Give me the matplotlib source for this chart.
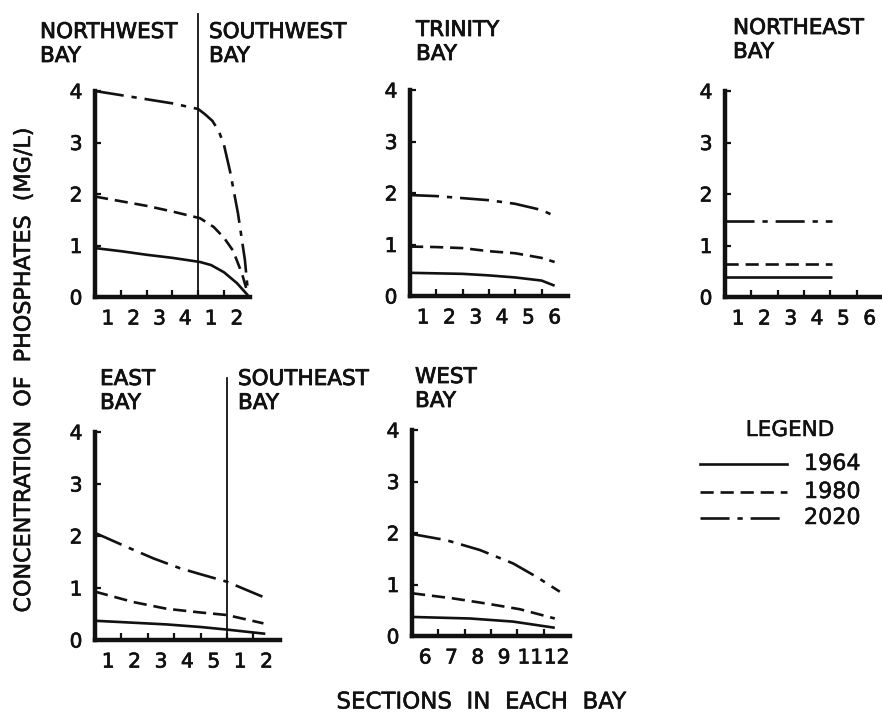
import matplotlib
matplotlib.use("Agg")
import matplotlib.pyplot as plt
import matplotlib.patheffects as pe

plt.rcParams['font.family'] = ['DejaVu Sans']

W, H = 882, 713
years = ["1964", "1980", "2020"]

# ---- Northwest / Southwest Bay (sections 1-4 | 1-2) ----
nw_labels = ["1", "2", "3", "4", "1", "2"]
nw_x_1964 = [0, 1, 2, 3, 4.07, 4.5, 5.0, 5.5, 5.93]
nw_y_1964 = [0.95, 0.89, 0.82, 0.76, 0.68, 0.62, 0.48, 0.27, 0.03]
nw_x_1980 = [0, 1, 2, 3, 4.07, 4.6, 5.0, 5.35, 5.7, 5.93]
nw_y_1980 = [1.95, 1.86, 1.77, 1.66, 1.53, 1.36, 1.15, 0.9, 0.45, 0.05]
nw_x_2020 = [0, 1, 2, 3, 4.0, 4.26, 4.55, 4.8, 5.0, 5.23, 5.54, 5.81, 5.93]
nw_y_2020 = [4.0, 3.92, 3.84, 3.76, 3.65, 3.55, 3.42, 3.22, 2.95, 2.45, 1.63, 0.72, 0.08]

# ---- Trinity Bay (sections 1-6) ----
tr_labels = ["1", "2", "3", "4", "5", "6"]
tr_x_1964 = [0, 1, 2, 3, 4, 5, 5.5]
tr_y_1964 = [0.45, 0.44, 0.43, 0.40, 0.36, 0.30, 0.20]
tr_x_1980 = [0, 1, 2, 3, 4, 5, 5.5]
tr_y_1980 = [0.96, 0.95, 0.93, 0.87, 0.83, 0.74, 0.66]
tr_x_2020 = [0, 1, 2, 3, 4, 5, 5.6]
tr_y_2020 = [1.96, 1.94, 1.90, 1.86, 1.79, 1.67, 1.53]

# ---- Northeast Bay (sections 1-6) ----
ne_labels = ["1", "2", "3", "4", "5", "6"]
ne_x = [0, 4.05]
ne_y_1964 = [0.39, 0.39]
ne_y_1980 = [0.64, 0.64]
ne_y_2020 = [1.48, 1.48]

# ---- East / Southeast Bay (sections 1-5 | 1-2) ----
ea_labels = ["1", "2", "3", "4", "5", "1", "2"]
ea_x_1964 = [0, 2.7, 4.0, 5.0, 6.45]
ea_y_1964 = [0.37, 0.30, 0.25, 0.20, 0.12]
ea_x_1980 = [0, 1.45, 2.72, 3.98, 5.0, 6.38]
ea_y_1980 = [0.93, 0.73, 0.60, 0.53, 0.48, 0.32]
ea_x_2020 = [0, 1.2, 2.21, 3.22, 4.1, 5.0, 6.5]
ea_y_2020 = [2.06, 1.79, 1.57, 1.38, 1.25, 1.12, 0.80]

# ---- West Bay (sections 6-12) ----
we_labels = ["6", "7", "8", "9", "11", "12"]
we_x_1964 = [0, 2.2, 3.84, 5.43]
we_y_1964 = [0.37, 0.34, 0.28, 0.16]
we_x_1980 = [0, 1.56, 2.83, 4.1, 5.43]
we_y_1980 = [0.83, 0.73, 0.63, 0.52, 0.34]
we_x_2020 = [0, 1.31, 2.58, 3.84, 4.73, 5.62]
we_y_2020 = [1.98, 1.86, 1.67, 1.41, 1.15, 0.86]

yticks = [0, 1, 2, 3, 4]

styles = {
    "1964": dict(linestyle="-"),
    "1980": dict(linestyle=(0, (5, 2.6))),
    "2020": dict(linestyle=(0, (11, 3, 2, 3))),
}
LW = 1.9
INK = "#111111"
stroke = [pe.withStroke(linewidth=0.6, foreground=INK)]

fig = plt.figure(figsize=(W / 100, H / 100), dpi=100)


def panel(x0, y0, y4, ppu, xmax, labels, series, divider=None, div_top=None):
    ax = fig.add_axes([x0 / W, 1 - y0 / H, xmax * ppu / W, (y0 - y4) / H])
    ax.set_xlim(0, xmax)
    ax.set_ylim(0, 4)
    for s in ["top", "right"]:
        ax.spines[s].set_visible(False)
    for s in ["left", "bottom"]:
        ax.spines[s].set_linewidth(3.2)
        ax.spines[s].set_color(INK)
        ax.spines[s].set_capstyle("projecting")
    ax.patch.set_visible(False)
    n = len(labels)
    ax.set_xticks(list(range(1, n)))
    ax.set_xticklabels([])
    ax.set_xticks([i + 0.5 for i in range(n)], minor=True)
    ax.set_xticklabels(labels, minor=True)
    ax.tick_params(axis="x", which="major", direction="in", length=5, width=1.6, color=INK)
    ax.tick_params(axis="x", which="minor", length=0, pad=9, labelsize=14.5, labelcolor=INK)
    ax.set_yticks(yticks)
    ax.set_yticklabels([str(v) for v in yticks])
    ax.tick_params(axis="y", direction="in", length=4, width=1.6, pad=9, labelsize=14.5,
                   labelcolor=INK, color=INK)
    for lbl in ax.get_xticklabels(minor=True) + ax.get_yticklabels():
        lbl.set_path_effects([pe.withStroke(linewidth=0.5, foreground=INK)])
    for yr, (xs, ys) in series.items():
        ax.plot(xs, ys, color=INK, lw=LW, clip_on=False, solid_capstyle="butt",
                dash_capstyle="butt", **styles[yr])
    if divider is not None:
        ax.plot([divider, divider], [0, div_top], color=INK, lw=1.3, clip_on=False)
    return ax


panel(95, 297, 91, 25.8, 6.0, nw_labels,
      {"1964": (nw_x_1964, nw_y_1964), "1980": (nw_x_1980, nw_y_1980),
       "2020": (nw_x_2020, nw_y_2020)}, divider=4, div_top=5.5)
panel(410, 296, 90, 26.3, 6.0, tr_labels,
      {"1964": (tr_x_1964, tr_y_1964), "1980": (tr_x_1980, tr_y_1980),
       "2020": (tr_x_2020, tr_y_2020)})
panel(725, 297, 91, 26.3, 6.5, ne_labels,
      {"1964": (ne_x, ne_y_1964), "1980": (ne_x, ne_y_1980),
       "2020": (ne_x, ne_y_2020)})
panel(95, 640, 432, 26.4, 7.0, ea_labels,
      {"1964": (ea_x_1964, ea_y_1964), "1980": (ea_x_1980, ea_y_1980),
       "2020": (ea_x_2020, ea_y_2020)}, divider=5, div_top=5.04)
panel(412, 636, 430, 26.3, 6.0, we_labels,
      {"1964": (we_x_1964, we_y_1964), "1980": (we_x_1980, we_y_1980),
       "2020": (we_x_2020, we_y_2020)})


def ftext(x, y, s, size=15.5, effects=stroke, **kw):
    fig.text(x / W, 1 - y / H, s, fontsize=size, color=INK, path_effects=effects, **kw)


titles = [
    (40, 22, "NORTHWEST", "BAY"),
    (209, 22, "SOUTHWEST", "BAY"),
    (416, 20, "TRINITY", "BAY"),
    (733, 18, "NORTHEAST", "BAY"),
    (100, 369, "EAST", "BAY"),
    (238, 369, "SOUTHEAST", "BAY"),
    (415, 367, "WEST", "BAY"),
]
for x, y, l1, l2 in titles:
    ftext(x, y, l1, ha="left", va="top")
    ftext(x, y + 24, l2, ha="left", va="top")

# y label and x label
ftext(24, 370, "CONCENTRATION  OF  PHOSPHATES  (MG/L)", size=16, rotation=90,
      ha="center", va="center", effects=[pe.withStroke(linewidth=0.4, foreground=INK)])
ftext(481, 702, "SECTIONS  IN  EACH  BAY", size=16.5, ha="center", va="center",
      effects=[pe.withStroke(linewidth=0.4, foreground=INK)])

# legend
light = [pe.withStroke(linewidth=0.35, foreground=INK)]
ftext(790, 430, "LEGEND", size=15.5, ha="center", va="center", effects=light)
lax = fig.add_axes([0, 0, 1, 1])
lax.set_xlim(0, W)
lax.set_ylim(H, 0)
lax.axis("off")
for yr, ly in zip(years, [464, 492, 518]):
    lax.plot([700, 787], [ly, ly], color=INK, lw=LW, **styles[yr])
    ftext(804, ly, yr, size=16, ha="left", va="center", effects=light)

fig.savefig("out.png", dpi=100, facecolor="white")
